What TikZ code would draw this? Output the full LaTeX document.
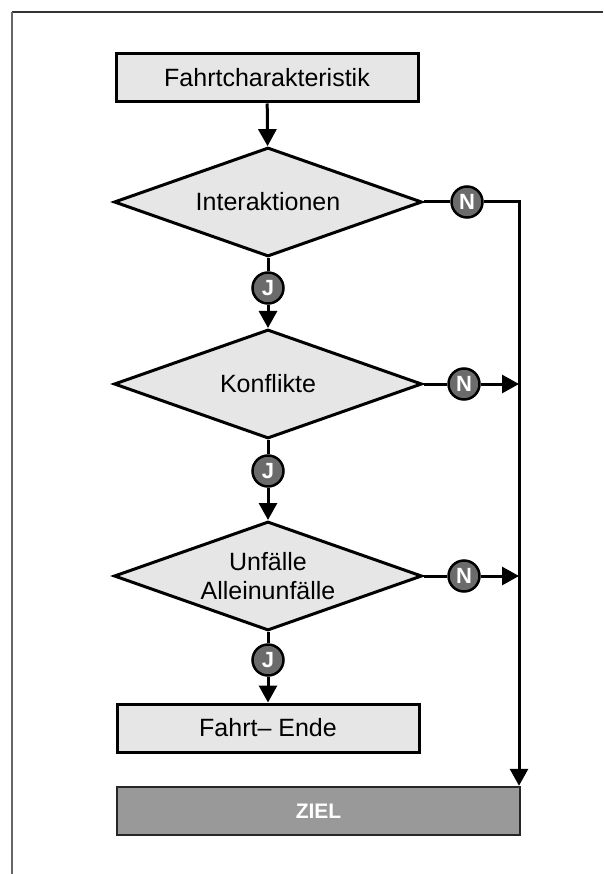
\documentclass[tikz,border=0pt]{standalone}
\usepackage{fontspec}
\setmainfont{Liberation Sans}
\usetikzlibrary{shapes.geometric,arrows.meta,calc}
\definecolor{boxfill}{HTML}{E6E6E6}
\definecolor{markfill}{HTML}{6B6B6B}
\definecolor{goalfill}{HTML}{999999}
\tikzset{
  conn/.style={line width=3pt, draw=black},
  arr/.style={conn, -{Triangle[length=17pt,width=18pt]}},
  stepbox/.style={rectangle, draw=black, line width=3pt, fill=boxfill,
    minimum width=302pt, minimum height=48pt, inner sep=0pt,
    font=\fontsize{25}{29}\selectfont},
  decision/.style={diamond, draw=black, line width=3pt, fill=boxfill,
    aspect=2.83, inner sep=0pt, minimum width=308pt, minimum height=109pt,
    align=center, font=\fontsize{25}{29}\selectfont},
  answer/.style={circle, draw=black, line width=2.5pt, fill=markfill,
    minimum size=31pt, inner sep=0pt, text=white,
    font=\fontsize{22}{22}\selectfont\bfseries},
  goal/.style={rectangle, draw=black!85, line width=2.5pt, fill=goalfill,
    minimum width=403pt, minimum height=48pt, inner sep=0pt, text=white,
    font=\fontsize{21}{21}\selectfont\bfseries}
}
\begin{document}
\begin{tikzpicture}[x=1pt, y=-1pt]
  \useasboundingbox (0,0) rectangle (603,874);
  % page frame (top and left edges)
  \draw[line width=1.8pt, black!80] (12,12) -- (603,12);
  \draw[line width=2.2pt, black!60] (12,12) -- (12,874);

  % main column
  \node[stepbox] (start) at (267,78) {Fahrtcharakteristik};
  \node[decision] (d1) at (268,202) {Interaktionen};
  \node[answer] (j1) at (268,288) {J};
  \node[decision] (d2) at (268,384) {Konflikte};
  \node[answer] (j2) at (268,471) {J};
  \node[decision] (d3) at (268,576) {Unfälle\\Alleinunfälle};
  \node[answer] (j3) at (268,660) {J};
  \node[stepbox] (end) at (268,728) {Fahrt– Ende};
  \node[goal] (ziel) at (318.5,811) {ZIEL};

  % "no" branches
  \node[answer] (n1) at (467,202) {N};
  \node[answer] (n2) at (464,384) {N};
  \node[answer] (n3) at (464,576) {N};
  \coordinate (corner) at (519,202);

  % vertical flow
  \draw[arr] (start) -- (d1);
  \draw[conn] (d1) -- (j1);
  \draw[arr] (j1) -- (d2);
  \draw[conn] (d2) -- (j2);
  \draw[arr] (j2) -- (d3);
  \draw[conn] (d3) -- (j3);
  \draw[arr] (j3) -- (end);

  % collecting line on the right
  \draw[conn] (d1.east) -- (n1);
  \draw[arr] (n1) -- (corner) -- (corner |- ziel.north);
  \draw[conn] (d2.east) -- (n2);
  \draw[arr] (n2) -- (n2 -| corner);
  \draw[conn] (d3.east) -- (n3);
  \draw[arr] (n3) -- (n3 -| corner);
\end{tikzpicture}
\end{document}
